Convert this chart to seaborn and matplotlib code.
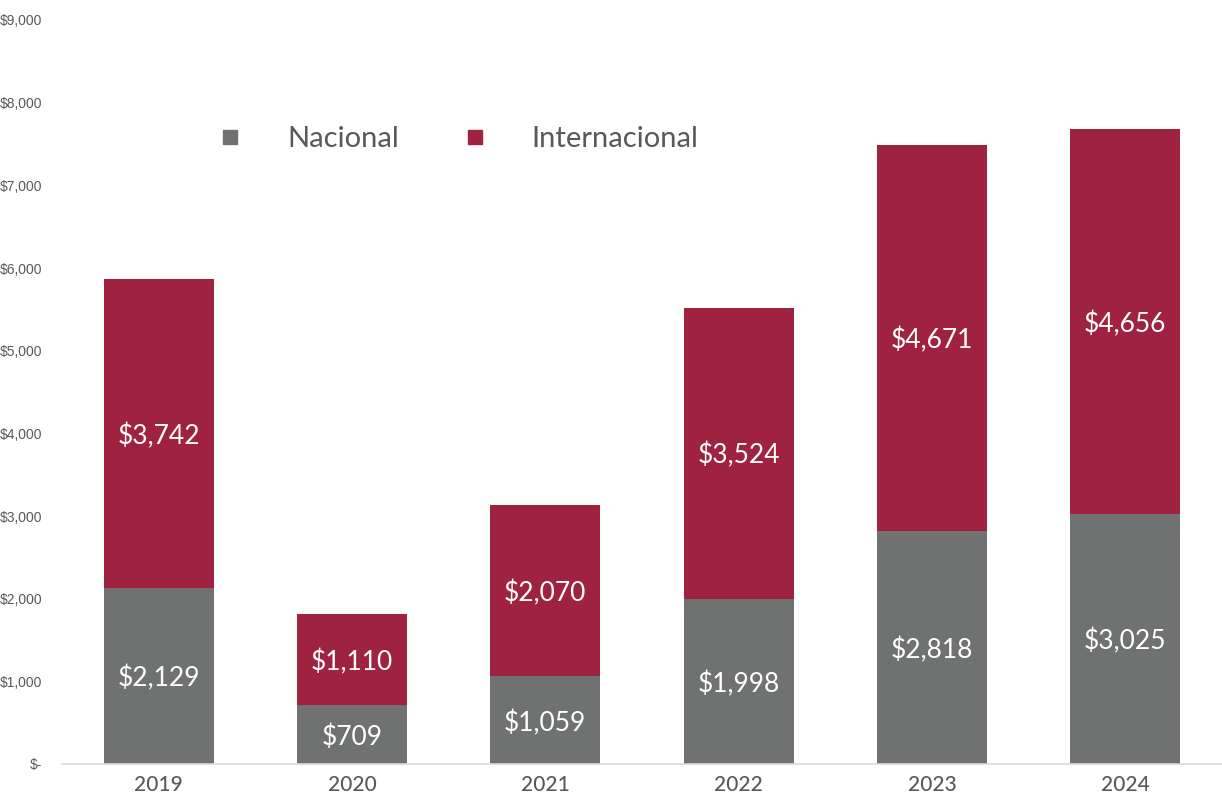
import pandas as pd
import matplotlib.pyplot as plt
import seaborn as sns
from matplotlib.lines import Line2D
from matplotlib.ticker import FuncFormatter

# ==========================================
# Data
# ==========================================

years = ["2019", "2020", "2021", "2022", "2023", "2024"]
nacional = [2129, 709, 1059, 1998, 2818, 3025]
internacional = [3742, 1110, 2070, 3524, 4671, 4656]

y_ticks = [0, 1000, 2000, 3000, 4000, 5000, 6000, 7000, 8000, 9000]

df = pd.DataFrame({
    "year": years,
    "Nacional": nacional,
    "Internacional": internacional,
})
df["total"] = df["Nacional"] + df["Internacional"]

# ==========================================
# Style
# ==========================================

sns.set_theme(style="white")
plt.rcParams["font.family"] = ["Lato", "DejaVu Sans"]

GREY = "#6F7271"
WINE = "#9F2241"
TEXT = "#595959"

fig = plt.figure(figsize=(12.22, 8), dpi=100)
ax = fig.add_axes([0.0507, 0.045, 0.9493, 0.93])

# stacked bars: total (wine) underneath, nacional (grey) on top of it
sns.barplot(data=df, x="year", y="total", color=WINE, width=0.57,
            saturation=1, linewidth=0, ax=ax)
sns.barplot(data=df, x="year", y="Nacional", color=GREY, width=0.57,
            saturation=1, linewidth=0, ax=ax)

# ==========================================
# Value labels
# ==========================================

for i, row in df.iterrows():
    ax.text(i, row["Nacional"] / 2, f"${row['Nacional']:,}",
            ha="center", va="center_baseline", color="white", fontsize=19)
    ax.text(i, row["Nacional"] + row["Internacional"] / 2,
            f"${row['Internacional']:,}",
            ha="center", va="center_baseline", color="white", fontsize=19)

# ==========================================
# Axes
# ==========================================

ax.set_xlim(-0.5, 5.5)
ax.set_ylim(0, 9000)
ax.set_yticks(y_ticks)
ax.yaxis.set_major_formatter(
    FuncFormatter(lambda v, p: "$-" if v == 0 else f"${v:,.0f}"))

for lab in ax.get_yticklabels():
    lab.set_fontfamily(["Liberation Sans", "DejaVu Sans"])
ax.tick_params(axis="y", labelsize=10, labelcolor=TEXT, length=0, pad=14)
ax.tick_params(axis="x", labelsize=15, labelcolor=TEXT, length=0, pad=8)
for lab in ax.get_xticklabels():
    lab.set_fontweight("medium")

ax.set_xlabel("")
ax.set_ylabel("")
for s in ["top", "right", "left"]:
    ax.spines[s].set_visible(False)
ax.spines["bottom"].set_color("#d9d9d9")
ax.spines["bottom"].set_linewidth(1.2)
ax.grid(False)

# ==========================================
# Legend
# ==========================================

handles = [
    Line2D([0], [0], marker="s", color="none", markerfacecolor=GREY,
           markeredgecolor=GREY, markersize=10, label="Nacional"),
    Line2D([0], [0], marker="s", color="none", markerfacecolor=WINE,
           markeredgecolor=WINE, markersize=10, label="Internacional"),
]
leg = ax.legend(handles=handles, loc="center left",
                bbox_to_anchor=(0.11, 0.84), ncol=2, frameon=False,
                fontsize=21, handletextpad=1.45, columnspacing=2.1,
                handlelength=1.0)
for t in leg.get_texts():
    t.set_color(TEXT)

fig.savefig("out.png", dpi=100)
